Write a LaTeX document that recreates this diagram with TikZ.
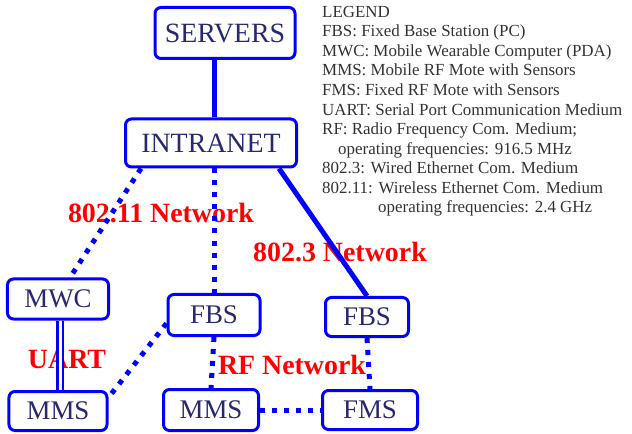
\documentclass[tikz,border=0pt]{standalone}
\usepackage{fontspec}
\setmainfont{Liberation Serif}
\definecolor{netblue}{RGB}{0,0,255}
\definecolor{boxtext}{RGB}{40,40,110}
\definecolor{netred}{RGB}{255,0,0}
\definecolor{legendgray}{RGB}{50,50,50}

\begin{document}
\begin{tikzpicture}[x=1bp,y=-1bp]

      \useasboundingbox (0,0) rectangle (632,434);

      % network labels (lines go over them)
      \begin{scope}[every node/.style={text=netred,font=\fontsize{28}{28}\selectfont\bfseries,inner sep=0pt}]
        \node (lwifi)  at (161,213) {802.11 Network};
        \node (lwired) at (340,252) {802.3 Network};
        \node (luart)  at (67,359)  {UART};
        \node (lrf)    at (292,365) {RF Network};
      \end{scope}

      \begin{scope}[every node/.style={draw=netblue,line width=3bp,rounded corners=6bp,
          text=boxtext,inner sep=0pt,font=\fontsize{27}{27}\selectfont}]
        \node[minimum width=140bp,minimum height=51bp,font=\fontsize{28}{28}\selectfont] (servers)  at (225,33)  {SERVERS};
        \node[minimum width=171bp,minimum height=48bp,font=\fontsize{28}{28}\selectfont] (intranet) at (211,143) {INTRANET};
        \node[minimum width=101bp,minimum height=40bp] (mwc)   at (58,299)  {MWC};
        \node[minimum width=92bp,minimum height=41bp]  (fbsA)  at (214,315) {FBS};
        \node[minimum width=83bp,minimum height=39bp]  (fbsB)  at (367,317) {FBS};
        \node[minimum width=98bp,minimum height=39bp]  (mmsA)  at (58,411)  {MMS};
        \node[minimum width=95bp,minimum height=41bp]  (mmsB)  at (211,410) {MMS};
        \node[minimum width=95bp,minimum height=39bp]  (fms)   at (370,410) {FMS};
      \end{scope}

      \begin{scope}[every edge/.style={draw=netblue}]

        \begin{scope}[line width=5bp]
          \path (servers.south -| fbsA.north) edge (intranet.north -| fbsA.north);
          \path ([xshift=-19bp]intranet.south east) edge (fbsB.north);
        \end{scope}

        \begin{scope}[line width=5bp,dash pattern=on 5bp off 7bp]
          \path ([xshift=17bp]intranet.south west) edge ([xshift=12bp]mwc.north);
          \path (intranet.south -| fbsA.north) edge (fbsA.north);
          \path (fbsA.190) edge (mmsA.15);
          \path (fbsA.south) edge (mmsB.north);
          \path (mmsB.east) edge (fms.west);
          \path (fbsB.south) edge (fms.north);
        \end{scope}

        \path ([xshift=2bp]mwc.south) edge[double=white,double distance=3bp,line width=2.5bp] ([xshift=2bp]mmsA.north);

      \end{scope}

      % legend
      \node[anchor=north west,align=left,inner sep=0pt,text=legendgray,
        font=\fontsize{17}{19.6}\selectfont] (legend) at (322,6) {%
        LEGEND\\
        FBS: Fixed Base Station (PC)\\
        MWC: Mobile Wearable Computer (PDA)\\
        MMS: Mobile RF Mote with Sensors\\
        FMS: Fixed RF Mote with Sensors\\
        UART: Serial Port Communication Medium\\
        RF: Radio Frequency Com. Medium;\\
        \hspace*{16bp}operating frequencies: 916.5 MHz\\
        802.3: Wired Ethernet Com. Medium\\
        802.11: Wireless Ethernet Com. Medium\\
        \hspace*{56bp}operating frequencies: 2.4 GHz};

    \end{tikzpicture}
\end{document}
